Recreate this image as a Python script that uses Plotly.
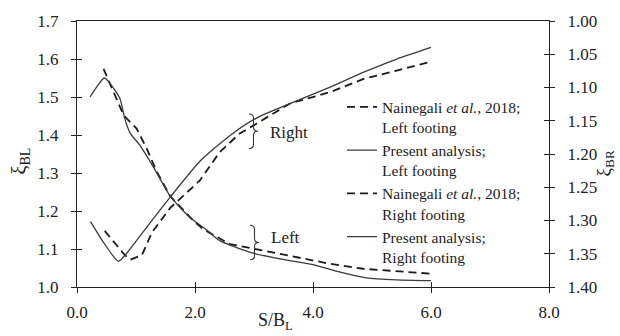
import plotly.graph_objects as go

# S/B_L spacing ratios and interference factors
# Left footing (left axis, xi_BL)
x_nain_left = [0.45, 0.62, 0.79, 1.01, 1.18, 1.35, 1.58, 1.97, 2.14, 2.59, 3.16, 3.72, 4.29, 4.85, 5.42, 6.0]
y_nain_left = [1.574, 1.513, 1.452, 1.417, 1.365, 1.304, 1.239, 1.175, 1.152, 1.113, 1.096, 1.078, 1.061, 1.048, 1.041, 1.035]

x_pres_left = [0.22, 0.35, 0.46, 0.55, 0.73, 0.81, 0.90, 1.07, 1.32, 1.58, 1.92, 2.20, 2.42, 2.99, 3.44, 4.00, 4.46, 4.91, 5.42, 6.0]
y_pres_left = [1.500, 1.530, 1.550, 1.538, 1.495, 1.443, 1.405, 1.372, 1.309, 1.239, 1.182, 1.150, 1.122, 1.089, 1.074, 1.059, 1.039, 1.024, 1.019, 1.017]

# Right footing (right axis, xi_BR, reversed)
x_nain_right = [0.47, 0.79, 0.90, 1.10, 1.27, 1.58, 1.80, 2.08, 2.42, 2.76, 3.05, 3.61, 4.29, 4.86, 5.42, 6.0]
y_nain_right = [1.3155, 1.350, 1.359, 1.352, 1.318, 1.281, 1.263, 1.240, 1.197, 1.169, 1.154, 1.124, 1.107, 1.087, 1.0745, 1.061]

x_pres_right = [0.23, 0.45, 0.70, 0.81, 1.20, 1.58, 2.08, 2.59, 3.05, 3.61, 4.29, 4.86, 5.42, 6.0]
y_pres_right = [1.3016, 1.333, 1.3613, 1.3527, 1.308, 1.2648, 1.2112, 1.1724, 1.1456, 1.1243, 1.0994, 1.077, 1.0572, 1.0398]

x_ticks = [0, 2, 4, 6, 8]
names = [
    "Nainegali <i>et al.</i>, 2018;<br>Left footing",
    "Present analysis;<br>Left footing",
    "Nainegali <i>et al.</i>, 2018;<br>Right footing",
    "Present analysis;<br>Right footing",
]

FONT = "Liberation Serif, Times New Roman, Times, serif"
INK = "#222222"
DASH = dict(color="#1a1a1a", width=1.8, dash="8px,5px")
SOLID = dict(color="#3a3a3a", width=1.3)

fig = go.Figure()
fig.add_trace(go.Scatter(x=x_nain_left, y=y_nain_left, mode="lines", name=names[0],
                         line=DASH, yaxis="y"))
fig.add_trace(go.Scatter(x=x_pres_left, y=y_pres_left, mode="lines", name=names[1],
                         line=dict(SOLID, shape="spline", smoothing=0.6), yaxis="y"))
fig.add_trace(go.Scatter(x=x_nain_right, y=y_nain_right, mode="lines", name=names[2],
                         line=DASH, yaxis="y2"))
fig.add_trace(go.Scatter(x=x_pres_right, y=y_pres_right, mode="lines", name=names[3],
                         line=dict(SOLID, shape="spline", smoothing=0.6), yaxis="y2"))

# invisible helpers so the inward half of each crossing tick gets drawn
fig.add_trace(go.Scatter(x=[None], y=[None], xaxis="x2", yaxis="y3", showlegend=False, hoverinfo="skip"))
fig.add_trace(go.Scatter(x=[None], y=[None], xaxis="x2", yaxis="y4", showlegend=False, hoverinfo="skip"))

L, R, T, B = 77, 71, 18, 49
W, H = 620, 336
pw, ph = W - L - R, H - T - B


def px_x(p):
    return (p - L) / pw


def px_y(p):
    return (H - B - p) / ph


tickfont = dict(family=FONT, size=17, color=INK)
common = dict(showgrid=False, zeroline=False, ticklen=5, tickwidth=1.3, tickcolor=INK)

fig.update_layout(
    width=W, height=H,
    margin=dict(l=L, r=R, t=T, b=B),
    paper_bgcolor="white", plot_bgcolor="white",
    font=dict(family=FONT, size=16, color=INK),
    showlegend=True,
    legend=dict(x=px_x(342), y=px_y(88), xanchor="left", yanchor="top",
                font=dict(family=FONT, size=15.5, color=INK),
                bgcolor="rgba(0,0,0,0)", valign="top", tracegroupgap=0,
                itemwidth=30),
    xaxis=dict(range=[0, 8], tickvals=x_ticks, tickformat=".1f", ticks="outside",
               showline=True, linecolor=INK, linewidth=1.3, mirror=True,
               tickfont=tickfont, ticklabelstandoff=4, **common),
    xaxis2=dict(range=[0, 8], tickvals=x_ticks, ticks="inside", overlaying="x",
                anchor="y", side="bottom", showticklabels=False, showline=False, **common),
    yaxis=dict(range=[1.0, 1.7], dtick=0.1, tickformat=".1f", ticks="outside",
               showline=True, linecolor=INK, linewidth=1.3,
               tickfont=tickfont, ticklabelstandoff=9, **common),
    yaxis2=dict(range=[1.40, 1.00], dtick=0.05, tickformat=".2f", ticks="outside",
                overlaying="y", side="right", anchor="x",
                showline=True, linecolor=INK, linewidth=1.3,
                tickfont=tickfont, ticklabelstandoff=9, **common),
    yaxis3=dict(range=[1.0, 1.7], dtick=0.1, ticks="inside", overlaying="y", side="left",
                anchor="x2", showticklabels=False, showline=False, **common),
    yaxis4=dict(range=[1.40, 1.00], dtick=0.05, ticks="inside", overlaying="y", side="right",
                anchor="x2", showticklabels=False, showline=False, **common),
)

# axis titles
fig.add_annotation(text="S/B<sub>L</sub>", xref="paper", yref="paper", x=px_x(275), y=px_y(322),
                   xanchor="center", yanchor="middle",
                   showarrow=False, font=dict(family=FONT, size=18, color=INK))
fig.add_annotation(text="ξ<sub>BL</sub>", xref="paper", yref="paper", x=px_x(20), y=px_y(160),
                   xanchor="center", yanchor="middle",
                   textangle=-90, showarrow=False, font=dict(family=FONT, size=20, color=INK))
fig.add_annotation(text="ξ<sub>BR</sub>", xref="paper", yref="paper", x=px_x(605), y=px_y(162),
                   xanchor="center", yanchor="middle",
                   textangle=-90, showarrow=False, font=dict(family=FONT, size=19, color=INK))


def brace(x_left, y_mid, height, width):
    """Right-pointing curly brace path in paper coordinates (pixel inputs)."""
    h2 = height / 2.0
    c = 4.0
    xm = x_left + width / 2.0
    xt = x_left + width
    pts = [
        ("M", [(x_left, y_mid - h2)]),
        ("Q", [(xm, y_mid - h2), (xm, y_mid - h2 + c)]),
        ("L", [(xm, y_mid - c)]),
        ("Q", [(xm, y_mid), (xt, y_mid)]),
        ("Q", [(xm, y_mid), (xm, y_mid + c)]),
        ("L", [(xm, y_mid + h2 - c)]),
        ("Q", [(xm, y_mid + h2), (x_left, y_mid + h2)]),
    ]
    out = []
    for cmd, ps in pts:
        out.append(cmd + " " + " ".join(f"{px_x(px):.5f},{px_y(py):.5f}" for px, py in ps))
    return " ".join(out)


for bx, by, lbl, ly in [(249, 129.5, "Right", 130.5), (250, 242, "Left", 236.5)]:
    fig.add_shape(type="path", xref="paper", yref="paper", path=brace(bx, by, 35, 9),
                  line=dict(color="#333333", width=1.1))
    fig.add_annotation(text=lbl, xref="paper", yref="paper", x=px_x(bx + 19), y=px_y(ly),
                       xanchor="left", yanchor="middle",
                       showarrow=False, font=dict(family=FONT, size=17, color=INK))

fig.write_html("out.html")
